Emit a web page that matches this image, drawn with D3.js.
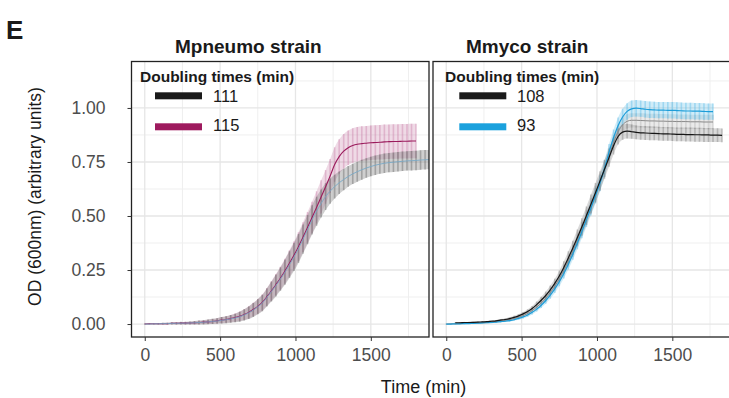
<!DOCTYPE html>
<html>
<head>
<meta charset="utf-8">
<script src="https://cdn.jsdelivr.net/npm/d3@7"></script>
<style>
  body { margin: 0; background: #fff; }
  svg { font-family: "Liberation Sans", Arial, sans-serif; }
</style>
</head>
<body>
<script>
// sampling times (min)
var time = [0,30,60,90,120,150,180,210,240,270,
  300,330,360,390,420,450,480,510,540,570,
  600,630,660,690,720,750,780,810,840,870,
  900,930,960,990,1020,1050,1080,1110,1140,1170,
  1200,1230,1260,1290,1320,1350,1380,1410,1440,1470,
  1500,1530,1560,1590,1620,1650,1680,1710,1740,1770,
  1800,1830,1860,1890]

// Mpneumo strain
var mpn111 = [0.000,0.000,0.001,0.001,0.002,0.002,0.003,0.003,0.004,0.004,
  0.005,0.006,0.007,0.008,0.010,0.012,0.014,0.017,0.020,0.024,
  0.028,0.034,0.042,0.052,0.065,0.080,0.097,0.123,0.150,0.178,
  0.208,0.240,0.275,0.310,0.350,0.393,0.437,0.482,0.522,0.558,
  0.590,0.615,0.636,0.654,0.669,0.683,0.695,0.705,0.714,0.722,
  0.729,0.735,0.740,0.744,0.747,0.749,0.751,0.753,0.755,0.756,
  0.757,0.759,0.760,0.761]
var mpn111Sd = [0.002,0.002,0.003,0.003,0.004,0.004,0.005,0.005,0.006,0.006,
  0.007,0.008,0.009,0.010,0.011,0.012,0.013,0.015,0.016,0.018,
  0.020,0.023,0.026,0.029,0.032,0.035,0.038,0.042,0.046,0.050,
  0.054,0.058,0.062,0.065,0.067,0.068,0.068,0.068,0.067,0.065,
  0.062,0.058,0.055,0.052,0.050,0.048,0.047,0.046,0.046,0.045,
  0.045,0.045,0.045,0.045,0.045,0.045,0.045,0.045,0.045,0.045,
  0.045,0.045,0.045,0.045]
var mpn115 = [0.000,0.001,0.001,0.001,0.002,0.002,0.003,0.003,0.004,0.004,
  0.005,0.006,0.007,0.009,0.010,0.012,0.015,0.018,0.021,0.025,
  0.030,0.036,0.044,0.054,0.067,0.082,0.100,0.126,0.153,0.182,
  0.212,0.245,0.281,0.318,0.358,0.402,0.447,0.493,0.540,0.588,
  0.635,0.685,0.738,0.775,0.800,0.816,0.826,0.832,0.835,0.837,
  0.839,0.840,0.841,0.843,0.844,0.845,0.845,0.846,0.846,0.847,
  0.847,null,null,null]
var mpn115Sd = [0.002,0.002,0.002,0.003,0.003,0.004,0.004,0.005,0.005,0.006,
  0.006,0.007,0.008,0.009,0.010,0.011,0.012,0.014,0.015,0.017,
  0.019,0.022,0.025,0.028,0.031,0.034,0.037,0.041,0.045,0.049,
  0.053,0.057,0.061,0.064,0.067,0.069,0.071,0.073,0.075,0.077,
  0.078,0.079,0.080,0.080,0.080,0.080,0.080,0.080,0.080,0.080,
  0.080,0.080,0.080,0.080,0.080,0.080,0.080,0.080,0.080,0.080,
  0.080,null,null,null]

// Mmyco strain
var myc108 = [null,null,0.006,0.006,0.007,0.007,0.008,0.009,0.010,0.011,
  0.013,0.015,0.018,0.021,0.025,0.031,0.038,0.047,0.058,0.072,
  0.090,0.110,0.132,0.158,0.188,0.222,0.262,0.306,0.352,0.400,
  0.450,0.502,0.555,0.608,0.662,0.716,0.770,0.825,0.868,0.888,
  0.893,0.890,0.887,0.885,0.884,0.883,0.882,0.881,0.880,0.880,
  0.879,0.878,0.878,0.877,0.877,0.876,0.876,0.875,0.875,0.874,
  0.874,0.873,null,null]
var myc108Sd = [null,null,0.003,0.003,0.003,0.003,0.003,0.003,0.003,0.003,
  0.004,0.004,0.005,0.005,0.006,0.007,0.008,0.009,0.010,0.012,
  0.014,0.016,0.018,0.020,0.022,0.025,0.028,0.031,0.034,0.037,
  0.040,0.042,0.044,0.045,0.045,0.044,0.042,0.040,0.037,0.035,
  0.034,0.033,0.032,0.032,0.032,0.032,0.032,0.032,0.032,0.032,
  0.032,0.032,0.032,0.032,0.032,0.032,0.032,0.032,0.032,0.032,
  0.032,0.032,null,null]
var myc93 = [0.000,0.000,0.001,0.001,0.002,0.002,0.003,0.004,0.005,0.006,
  0.007,0.009,0.011,0.013,0.016,0.020,0.026,0.033,0.042,0.054,
  0.069,0.087,0.109,0.134,0.163,0.196,0.234,0.277,0.324,0.375,
  0.428,0.482,0.537,0.594,0.652,0.720,0.795,0.862,0.918,0.958,
  0.984,0.996,0.999,0.997,0.994,0.992,0.991,0.990,0.990,0.989,
  0.989,0.988,0.987,0.986,0.986,0.985,0.985,0.984,0.983,0.983,
  null,null,null,null]
var myc93Sd = [0.002,0.002,0.002,0.002,0.002,0.002,0.002,0.002,0.002,0.002,
  0.003,0.003,0.004,0.004,0.005,0.005,0.006,0.007,0.008,0.010,
  0.011,0.013,0.015,0.017,0.019,0.021,0.023,0.025,0.027,0.029,
  0.031,0.033,0.035,0.036,0.037,0.038,0.038,0.038,0.038,0.038,
  0.038,0.038,0.038,0.038,0.038,0.038,0.038,0.038,0.038,0.038,
  0.038,0.038,0.038,0.038,0.038,0.038,0.038,0.038,0.038,0.038,
  null,null,null,null]
var mycRef = [0.000,0.001,0.001,0.002,0.002,0.003,0.004,0.005,0.006,0.007,
  0.009,0.011,0.013,0.016,0.020,0.025,0.031,0.039,0.049,0.062,
  0.078,0.097,0.119,0.145,0.175,0.209,0.248,0.291,0.338,0.388,
  0.440,0.493,0.547,0.602,0.657,0.716,0.778,0.840,0.890,0.922,
  0.938,0.943,0.943,0.942,0.941,0.940,0.940,0.939,0.939,0.938,
  0.938,0.937,0.937,0.937,0.936,0.936,0.936,0.935,0.935,0.935,
  null,null,null,null]
var mycRefSd = [0.002,0.002,0.002,0.002,0.002,0.002,0.002,0.002,0.002,0.002,
  0.003,0.003,0.004,0.004,0.005,0.005,0.006,0.007,0.008,0.010,
  0.012,0.014,0.016,0.018,0.020,0.022,0.024,0.026,0.028,0.030,
  0.032,0.034,0.035,0.036,0.036,0.035,0.035,0.034,0.034,0.033,
  0.033,0.033,0.033,0.033,0.033,0.033,0.033,0.033,0.033,0.033,
  0.033,0.033,0.033,0.033,0.033,0.033,0.033,0.033,0.033,0.033,
  null,null,null,null]

var panelTitles = ['Mpneumo strain', 'Mmyco strain']
var legendTitle = 'Doubling times (min)'
var legendLabels = [['111', '115'], ['108', '93']]
var yTicks = [0, 0.25, 0.5, 0.75, 1]
var xTicks = [0, 500, 1000, 1500]

var W = 729, H = 398
var pTop = 61.5, pBottom = 337

var svg = d3.select('body').append('svg')
  .attr('width', W).attr('height', H)

var y = d3.scaleLinear().domain([-0.06, 1.215]).range([pBottom, pTop])

function pts(v, sd) {
  return time.map(function (t, i) { return { t: t, v: v[i], sd: sd[i] } })
}

var panels = [
  { x0: 131.5, x1: 429, titleX: 175, legX: 140, keyX: 155, labX: 213,
    keyCols: ['#1a1a1a', '#9e1a5e'],
    series: [
      { d: pts(mpn115, mpn115Sd), bar: '#c77aa4', band: 0.28, barOp: 0.4, line: '#9b1b5c', lw: 1.1 },
      { d: pts(mpn111, mpn111Sd), bar: '#6a6a6a', band: 0.32, barOp: 0.45, line: '#79a9c6', lw: 0.9 }
    ] },
  { x0: 433, x1: 730.5, titleX: 466, legX: 445, keyX: 459.3, labX: 517,
    keyCols: ['#1a1a1a', '#1ba1dd'],
    series: [
      { d: pts(mycRef, mycRefSd), bar: '#b8b8b8', band: 0.3, barOp: 0.45, line: '#8a8a8a', lw: 1 },
      { d: pts(myc93, myc93Sd), bar: '#63bfe8', band: 0.3, barOp: 0.45, line: '#1e9dd8', lw: 1.2 },
      { d: pts(myc108, myc108Sd), bar: '#7a7a7a', band: 0.28, barOp: 0.4, line: '#151515', lw: 1.2 }
    ] }
]

svg.append('text')
  .attr('x', 6).attr('y', 39)
  .attr('font-size', 26).attr('font-weight', 'bold').attr('fill', '#1a1a1a')
  .text('E')

panels.forEach(function (p, pi) {
  var x = d3.scaleLinear().domain([-88, 1886]).range([p.x0, p.x1])
  var g = svg.append('g')

  g.append('clipPath').attr('id', 'clip' + pi)
    .append('rect').attr('x', p.x0).attr('y', pTop)
    .attr('width', p.x1 - p.x0).attr('height', pBottom - pTop)

  // grid
  var minorX = [-250, 250, 750, 1250, 1750], minorY = [0.125, 0.375, 0.625, 0.875, 1.125]
  g.append('g').attr('clip-path', 'url(#clip' + pi + ')')
    .selectAll('line').data(minorX).enter().append('line')
    .attr('x1', x).attr('x2', x).attr('y1', pTop).attr('y2', pBottom)
    .attr('stroke', '#efefef').attr('stroke-width', 1)
  g.append('g').selectAll('line').data(minorY).enter().append('line')
    .attr('x1', p.x0).attr('x2', p.x1).attr('y1', y).attr('y2', y)
    .attr('stroke', '#efefef').attr('stroke-width', 1)
  g.append('g').selectAll('line').data(xTicks).enter().append('line')
    .attr('x1', x).attr('x2', x).attr('y1', pTop).attr('y2', pBottom)
    .attr('stroke', '#e6e6e6').attr('stroke-width', 1.3)
  g.append('g').selectAll('line').data(yTicks).enter().append('line')
    .attr('x1', p.x0).attr('x2', p.x1).attr('y1', y).attr('y2', y)
    .attr('stroke', '#e6e6e6').attr('stroke-width', 1.3)

  var plot = g.append('g').attr('clip-path', 'url(#clip' + pi + ')')

  var band = d3.area()
    .defined(function (d) { return d.v != null })
    .x(function (d) { return x(d.t) })
    .y0(function (d) { return y(d.v - d.sd) }).y1(function (d) { return y(d.v + d.sd) })
    .curve(d3.curveMonotoneX)

  p.series.forEach(function (s) {
    plot.append('path').datum(s.d)
      .attr('d', band).attr('fill', s.bar).attr('fill-opacity', s.band)
    plot.append('g').selectAll('line')
      .data(s.d.filter(function (d) { return d.v != null }))
      .enter().append('line')
      .attr('x1', function (d) { return x(d.t) }).attr('x2', function (d) { return x(d.t) })
      .attr('y1', function (d) { return y(d.v - d.sd) }).attr('y2', function (d) { return y(d.v + d.sd) })
      .attr('stroke', s.bar).attr('stroke-opacity', s.barOp).attr('stroke-width', 1.6)
  })

  var line = d3.line()
    .defined(function (d) { return d.v != null })
    .x(function (d) { return x(d.t) }).y(function (d) { return y(d.v) })
    .curve(d3.curveMonotoneX)

  p.series.forEach(function (s) {
    plot.append('path').datum(s.d)
      .attr('d', line).attr('fill', 'none')
      .attr('stroke', s.line).attr('stroke-width', s.lw)
  })

  // border
  g.append('rect')
    .attr('x', p.x0).attr('y', pTop)
    .attr('width', p.x1 - p.x0).attr('height', pBottom - pTop)
    .attr('fill', 'none').attr('stroke', '#222').attr('stroke-width', 1.3)

  // x axis
  var ax = g.append('g').attr('transform', 'translate(0,' + pBottom + ')')
    .call(d3.axisBottom(x).tickValues(xTicks).tickFormat(d3.format('d')).tickSize(4).tickPadding(8))
  ax.select('.domain').remove()
  ax.selectAll('line').attr('stroke', '#333')
  ax.selectAll('text').attr('font-size', 17.5).attr('fill', '#4d4d4d')
    .attr('font-family', '"Liberation Sans", Arial, sans-serif')

  if (pi === 0) {
    var ay = g.append('g').attr('transform', 'translate(' + p.x0 + ',0)')
      .call(d3.axisLeft(y).tickValues(yTicks).tickFormat(d3.format('.2f')).tickSize(4).tickPadding(22))
    ay.select('.domain').remove()
    ay.selectAll('line').attr('stroke', '#333')
    ay.selectAll('text').attr('font-size', 17.5).attr('fill', '#4d4d4d')
      .attr('font-family', '"Liberation Sans", Arial, sans-serif')
  }

  // title
  g.append('text').attr('x', p.titleX).attr('y', 52.7)
    .attr('font-size', 19).attr('font-weight', 'bold').attr('fill', '#1a1a1a')
    .text(panelTitles[pi])

  // legend
  g.append('text').attr('x', p.legX).attr('y', 81.5)
    .attr('font-size', 15.5).attr('font-weight', 'bold').attr('fill', '#1a1a1a')
    .text(legendTitle)
  legendLabels[pi].forEach(function (lab, k) {
    g.append('rect').attr('x', p.keyX).attr('y', 92.3 + k * 31)
      .attr('width', 47).attr('height', 7).attr('fill', p.keyCols[k])
    g.append('text').attr('x', p.labX).attr('y', 102.4 + k * 28.2)
      .attr('font-size', 16.5).attr('fill', '#1a1a1a')
      .text(lab)
  })
})

svg.append('text')
  .attr('x', 423.5).attr('y', 393)
  .attr('text-anchor', 'middle').attr('font-size', 18).attr('fill', '#1a1a1a')
  .text('Time (min)')

svg.append('text')
  .attr('transform', 'translate(41,196.5) rotate(-90)')
  .attr('text-anchor', 'middle').attr('font-size', 17.5).attr('fill', '#1a1a1a')
  .text('OD (600nm) (arbitrary units)')
</script>
</body>
</html>
